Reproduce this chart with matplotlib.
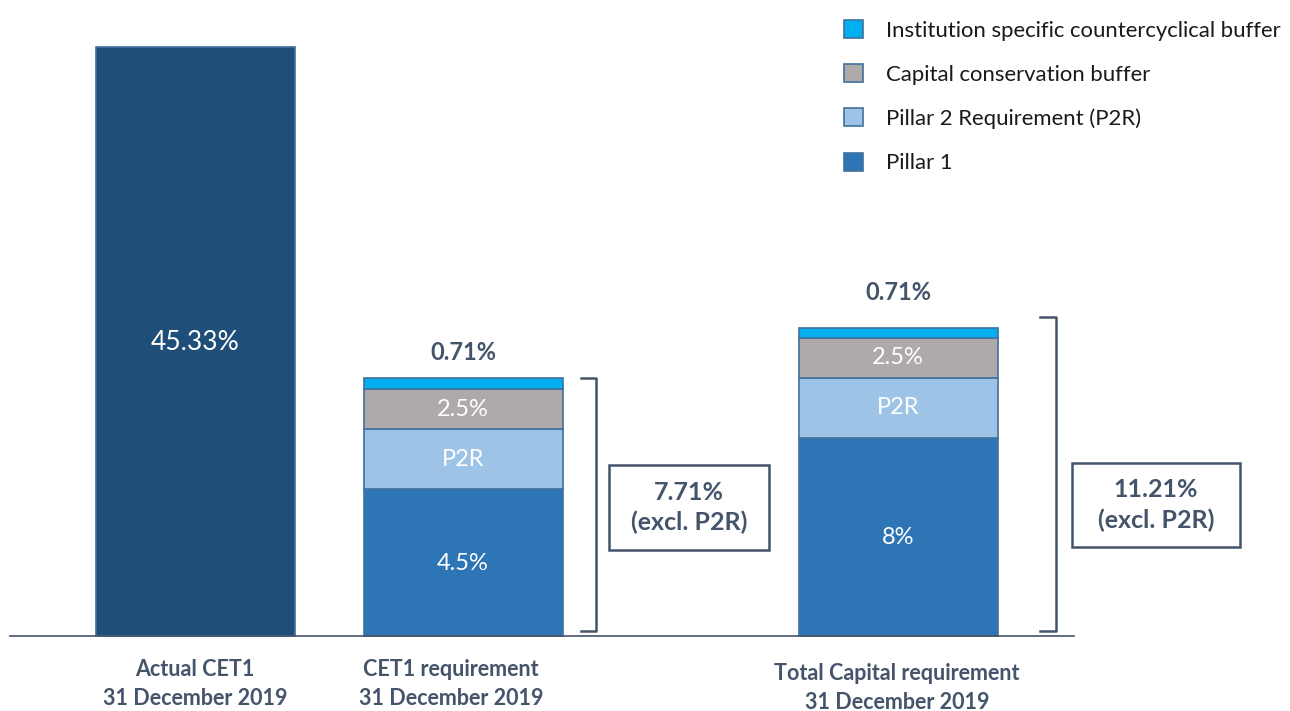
import matplotlib
matplotlib.use("Agg")
import matplotlib.pyplot as plt
from matplotlib.patches import Rectangle

plt.rcParams['font.family'] = ['Lato', 'DejaVu Sans']

# ---- data ----
categories = ["Actual CET1\n31 December 2019",
              "CET1 requirement\n31 December 2019",
              "Total Capital requirement\n31 December 2019"]
series = ["Pillar 1", "Pillar 2 Requirement (P2R)",
          "Capital conservation buffer",
          "Institution specific countercyclical buffer"]
# value labels written on each segment
actual_label = "45.33%"
pillar1_labels = ["4.5%", "8%"]
p2r_labels = ["P2R", "P2R"]
ccb_labels = ["2.5%", "2.5%"]
buffer_labels = ["0.71%", "0.71%"]
total_labels = ["7.71%\n(excl. P2R)", "11.21%\n(excl. P2R)"]
# drawn (schematic, not to scale) segment heights
actual_height = 589
pillar1_heights = [147, 198]
p2r_heights = [60, 60]
ccb_heights = [40, 40]
buffer_heights = [11, 10]

# ---- style ----
c_actual = "#1F4E79"
c_p1 = "#2E75B6"
c_p2r = "#9DC3E6"
c_ccb = "#AEAAAA"
c_buf = "#00B0F0"
c_edge = "#41719C"
c_text = "#44546A"

W, H = 1290, 711
fig = plt.figure(figsize=(W / 100, H / 100), dpi=100)
ax = fig.add_axes([0, 0, 1, 1])
base = 636
ax.set_xlim(0, W)
ax.set_ylim(base - H, base)
ax.axis("off")

x_actual = 195
x_req = [463, 898]
bw = 199

ax.bar(x_actual, actual_height, width=bw, color=c_actual, edgecolor=c_edge, linewidth=1.2)
ax.text(x_actual, base - 343, actual_label, ha="center", va="center",
        color="white", fontsize=19)

b1 = ax.bar(x_req, pillar1_heights, width=bw, color=c_p1, edgecolor=c_edge, linewidth=1.2,
            label=series[0])
bot = list(pillar1_heights)
b2 = ax.bar(x_req, p2r_heights, width=bw, bottom=bot, color=c_p2r, edgecolor=c_edge,
            linewidth=1.2, label=series[1])
bot2 = [a + b for a, b in zip(bot, p2r_heights)]
b3 = ax.bar(x_req, ccb_heights, width=bw, bottom=bot2, color=c_ccb, edgecolor=c_edge,
            linewidth=1.2, label=series[2])
bot3 = [a + b for a, b in zip(bot2, ccb_heights)]
b4 = ax.bar(x_req, buffer_heights, width=bw, bottom=bot3, color=c_buf, edgecolor=c_edge,
            linewidth=1.2, label=series[3])
tops = [a + b for a, b in zip(bot3, buffer_heights)]

gaps = [26, 36]
for i, x in enumerate(x_req):
    ax.text(x, pillar1_heights[i] / 2 - 1, pillar1_labels[i], ha="center", va="center",
            color="white", fontsize=17)
    ax.text(x, bot[i] + p2r_heights[i] / 2, p2r_labels[i], ha="center", va="center",
            color="white", fontsize=17)
    ax.text(x, bot2[i] + ccb_heights[i] / 2, ccb_labels[i], ha="center", va="center",
            color="white", fontsize=17)
    ax.text(x, tops[i] + gaps[i], buffer_labels[i], ha="center", va="center",
            color=c_text, fontsize=17, fontweight="bold")

# brackets
brackets = [(581, 596), (1040, 1056)]
for i, (x0, x1) in enumerate(brackets):
    ytop = tops[i] + 11 if i == 1 else tops[i]
    ybot = 5
    ax.plot([x0, x1, x1, x0], [ytop, ytop, ybot, ybot], color=c_text, lw=1.8,
            solid_joinstyle="round")

# boxes
boxes = [(609, 769, 465, 550), (1072, 1240, 463, 547)]
for i, (x0, x1, yt, yb) in enumerate(boxes):
    ax.add_patch(Rectangle((x0, base - yb), x1 - x0, yb - yt, fill=False,
                           edgecolor=c_text, lw=1.8))
    ax.text((x0 + x1) / 2, base - (yt + yb) / 2, total_labels[i], ha="center",
            va="center", color=c_text, fontsize=18, fontweight="bold", linespacing=1.35)

# baseline
ax.plot([10, 1074], [0, 0], color=c_text, lw=1.2)

# category labels
cat_x = [195, 451, 897]
cat_y = [684, 684, 688]
for x, y, lab in zip(cat_x, cat_y, categories):
    ax.text(x, base - y, lab, ha="center", va="center", color=c_text,
            fontsize=15.5, fontweight="bold", linespacing=1.45)

# legend
leg = ax.legend(handles=[b4, b3, b2, b1], loc="upper left",
                bbox_to_anchor=(824 / W, 1 - 0 / H), frameon=False,
                fontsize=15.9, handlelength=0.88, handleheight=0.88,
                labelspacing=1.07, handletextpad=1.05, labelcolor="#1a1a1a")

fig.savefig("out.png", dpi=100)
